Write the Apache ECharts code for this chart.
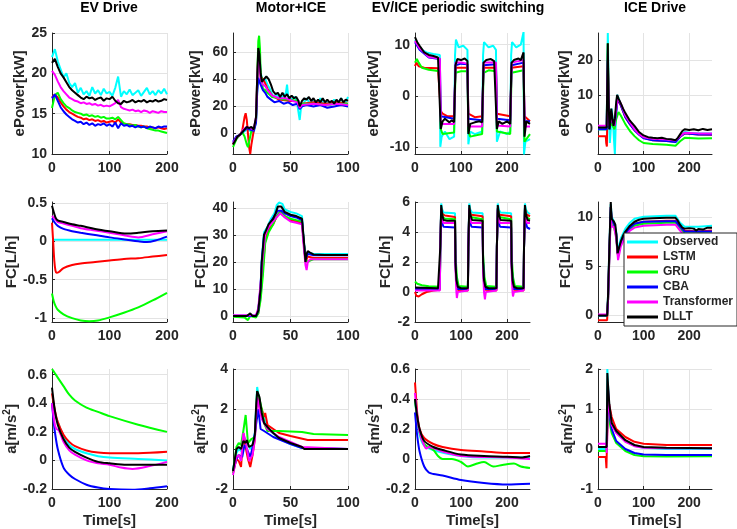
<!DOCTYPE html>
<html>
<head>
<meta charset="utf-8">
<title>Model comparison by drive mode</title>
<script src="https://cdn.jsdelivr.net/npm/echarts@6/dist/echarts.min.js"></script>
<style>
  html, body { margin: 0; padding: 0; background: #fff; }
  #chart { width: 737px; height: 529px; }
</style>
</head>
<body>
<div id="chart"></div>
<script>
// legend order = draw order
const seriesNames = ['Observed', 'LSTM', 'GRU', 'CBA', 'Transformer', 'DLLT'];
const seriesColors = ['#00ffff', '#ff0000', '#00ff00', '#0000ff', '#ff00ff', '#000000'];
const panelTitles = ['EV Drive', 'Motor+ICE', 'EV/ICE periodic switching', 'ICE Drive'];

// tick labels
const xTicks100 = [0, 50, 100];
const xTicks200 = [0, 100, 200];
const evPowTicks = [10, 15, 20, 25];
const mtPowTicks = [0, 20, 40, 60];
const swPowTicks = [-10, 0, 10];
const icePowTicks = [0, 10, 20];
const evFcTicks = [-1, -0.5, 0, 0.5];
const mtFcTicks = [0, 10, 20, 30, 40];
const swFcTicks = [-2, 0, 2, 4, 6];
const iceFcTicks = [0, 5, 10];
const evAccTicks = [-0.2, 0, 0.2, 0.4, 0.6];
const mtAccTicks = [-2, 0, 2, 4];
const swAccTicks = [-0.2, 0, 0.2, 0.4, 0.6];
const iceAccTicks = [-1, 0, 1, 2];

// ---- EV Drive, ePower (sampled every 5 s)
const evTime = [0,5,10,15,20,25,30,35,40,45,50,55,60,65,70,75,80,85,90,95,100,105,110,115,120,125,130,135,140,145,150,155,160,165,170,175,180,185,190,195,200];
const evPowObs = [22.0,23.0,21.5,20.5,19.5,20.0,18.8,18.3,18.8,17.6,18.2,17.4,17.8,17.2,18.3,17.5,17.9,17.3,18.1,17.5,17.7,17.2,18.2,19.6,17.1,17.8,17.4,18.0,17.3,17.6,17.9,17.2,17.7,18.2,17.4,17.8,17.3,17.9,17.5,18.1,17.4];
const evPowLstm = [17.0,17.4,17.0,16.4,15.9,15.5,15.2,15.0,14.8,14.6,14.5,14.3,14.4,14.2,14.3,14.1,14.2,14.0,14.1,13.9,14.0,14.1,13.9,14.3,13.9,13.8,13.7,13.7,13.6,13.6,13.5,13.5,13.4,13.4,13.3,13.3,13.2,13.3,13.2,13.1,13.2];
const evPowGru = [15.7,17.3,17.6,16.8,16.3,15.9,15.7,15.4,15.2,15.1,15.0,14.8,14.9,14.7,14.8,14.6,14.7,14.5,14.6,14.4,14.4,14.5,14.3,14.6,14.2,13.8,13.7,13.6,13.5,13.6,13.4,13.3,13.4,13.2,13.1,13.0,12.9,12.9,12.8,12.7,12.6];
const evPowCba = [16.9,17.4,16.6,15.8,15.3,14.9,14.6,14.3,14.1,13.9,14.0,13.7,13.9,13.6,13.8,13.5,13.7,13.6,13.8,13.5,13.7,13.4,13.9,13.2,13.8,13.5,13.6,13.4,13.5,13.3,13.5,13.3,13.4,13.2,13.4,13.3,13.2,13.4,13.3,13.4,13.4];
const evPowTrans = [20.3,19.8,19.0,18.3,17.8,17.4,17.0,16.8,16.6,16.5,16.3,16.4,16.2,16.3,16.1,16.2,16.0,16.1,15.9,16.0,15.9,16.1,16.3,16.7,15.8,15.6,15.5,15.4,15.5,15.3,15.4,15.2,15.4,15.3,15.1,15.3,15.2,15.1,15.3,15.2,15.2];
const evPowDllt = [21.3,21.8,20.8,20.0,19.5,18.9,18.3,17.9,17.6,17.3,17.0,16.8,17.1,16.9,17.0,16.7,16.9,17.0,16.6,16.9,16.8,17.1,16.6,16.3,16.2,16.6,16.4,16.5,16.7,16.4,16.6,16.5,16.7,16.4,16.6,16.5,16.7,16.5,16.6,16.8,16.7];

// ---- Motor+ICE, ePower [t, kW]
const mtPowObs = [[0,-7],[3,-3],[6,-1],[9,1],[12,3],[15,2],[18,1],[20,8],[21,30],[22,55],[23,60],[24,45],[26,38],[28,40],[30,36],[32,33],[35,27],[38,29],[41,26],[44,28],[46,30],[47,36],[48,27],[51,25],[54,27],[56,21],[58,10],[59,18],[61,22],[64,26],[67,22],[70,25],[73,21],[76,26],[79,22],[82,24],[85,21],[88,25],[91,22],[94,26],[97,21],[100,27]];
const mtPowLstm = [[0,-8],[3,-3],[6,-1],[8,2],[10,12],[11,15],[12,10],[13,0],[14,-10],[15,-15],[16,-8],[18,2],[20,10],[21,35],[22,60],[23,55],[24,42],[26,40],[28,37],[30,33],[34,28],[40,25],[50,24],[56,24],[58,19],[60,22],[70,23],[80,22],[90,23],[100,22]];
const mtPowGru = [[0,-10],[3,-4],[6,-1],[8,1],[10,-2],[12,-8],[13,-10],[14,-6],[16,2],[18,3],[20,10],[21,40],[22,68],[22.7,72],[23.5,62],[24,45],[26,33],[28,32],[30,30],[34,27],[40,26],[44,25],[50,25],[56,24],[58,19],[60,22],[70,22],[80,21],[90,22],[100,22]];
const mtPowCba = [[0,-6],[3,-2],[6,-1],[9,2],[12,4],[15,3],[18,2],[20,8],[21,30],[22,41],[23,40],[24,36],[26,32],[28,30],[30,27],[33,25],[36,23],[40,24],[44,22],[48,23],[52,21],[56,22],[58,18],[60,20],[64,21],[70,20],[76,21],[82,19],[88,20],[94,21],[100,20]];
const mtPowTrans = [[0,-7],[3,-3],[6,-1],[9,3],[12,5],[15,4],[18,3],[20,12],[21,40],[22,55],[23,50],[24,40],[26,36],[28,35],[30,32],[34,28],[40,26],[46,26],[52,24],[56,23],[58,19],[60,21],[70,22],[80,21],[90,22],[100,21]];
const mtPowDllt = [[0,-8],[2,-5],[4,-2],[6,-1],[8,1],[10,3],[12,5],[14,4],[16,5],[18,3],[20,12],[21,40],[22,63],[23,58],[24,45],[25,38],[27,40],[29,42],[31,40],[33,36],[35,31],[37,29],[39,30],[41,27],[43,30],[45,27],[47,29],[49,26],[51,28],[53,26],[55,27],[57,24],[58,20],[60,24],[62,26],[64,25],[66,27],[68,24],[70,26],[72,23],[74,25],[76,23],[78,26],[80,23],[82,25],[84,23],[86,24],[88,22],[90,25],[92,23],[94,26],[96,23],[98,25],[100,24]];

// ---- EV/ICE periodic switching, ePower
const swPowObs = [[0,11],[5,10.3],[15,9],[25,8.5],[40,8.2],[54,8],[55,-10],[58,-8],[65,-7],[75,-8.5],[85,-8],[87,8],[89,11],[95,9.5],[105,9.8],[114,9],[116,-9.5],[120,-7],[130,-7.5],[146,-7],[148,8],[150,10.5],[160,9.5],[170,9.8],[176,9],[178,-9],[185,-7],[200,-7.5],[207,-7],[209,8],[211,10.5],[220,9.5],[230,10],[236,12.5],[237,-11.5],[240,-9],[250,-8.5]];
const swPowLstm = [[0,5.8],[3,6.5],[8,5.8],[20,5.5],[50,5.4],[54,5.4],[56,-3],[60,-3.5],[70,-4],[85,-4],[88,5.5],[100,5.5],[114,5.5],[116,-3.5],[130,-4.2],[146,-4],[149,5.5],[176,5.5],[178,-3.5],[207,-4],[210,5.5],[236,5.8],[238,-4],[250,-5]];
const swPowGru = [[0,6.5],[4,7.2],[8,6.5],[15,5.5],[30,5.1],[54,4.8],[56,-6.5],[60,-7.5],[85,-7.2],[88,4.5],[100,4.8],[114,4.8],[116,-7],[120,-8],[146,-7.5],[149,4.5],[160,5],[176,4.8],[178,-7],[207,-7.5],[210,4.5],[236,5],[238,-9],[250,-7.5]];
const swPowCba = [[0,10.5],[10,9],[30,7.5],[54,7.2],[56,-4],[60,-4.2],[85,-4.5],[88,6],[100,6.3],[114,6.2],[116,-4.5],[146,-4.8],[149,6],[176,6.2],[178,-4.5],[207,-4.8],[210,6],[236,6.5],[238,-5],[250,-5]];
const swPowTrans = [[0,10.8],[10,9.3],[30,7.6],[54,7.3],[56,-5],[60,-5.5],[85,-5.5],[88,6.5],[100,6.5],[114,6.3],[116,-6],[146,-6],[149,6.5],[176,6.5],[178,-5.8],[207,-6],[210,6.5],[236,7],[238,-6],[250,-6]];
const swPowDllt = [[0,11.5],[5,10.5],[10,9.8],[20,8.5],[30,8],[40,7.8],[50,7.5],[54,7.3],[56,-6.5],[60,-5],[65,-4.5],[75,-5.2],[80,-4.8],[85,-5.2],[87,2],[88,6],[92,7.2],[100,7],[108,7.3],[114,6.8],[116,-7.5],[120,-5.5],[130,-5.2],[140,-5],[146,-5.2],[148,3],[149,6.5],[155,7],[165,7.2],[172,6.8],[176,6.5],[178,-6.5],[182,-5],[190,-5.5],[200,-5],[207,-5.5],[209,4],[210,6.5],[215,7],[225,7.3],[230,7],[236,8.5],[238,-8],[242,-5],[250,-5.5]];

// ---- ICE Drive, ePower
const icePowObs = [[0,0],[19,0],[20,12],[21.5,28],[23,15],[25,0],[26,-4],[28,0],[30,6],[33,2],[35,-3],[37,-7.2],[39,2],[42,10],[45,9],[50,7],[60,4],[70,2],[80,0.5],[90,-1.3],[100,-2.5],[120,-3],[140,-3],[150,-3.3],[170,-3.8],[175,-3],[180,-2],[190,-0.8],[200,-1],[220,-1.2],[250,-1.2]];
const icePowLstm = [[0,-2],[17,-2],[18,-4],[19.5,-5],[20.5,5],[22,18],[24,6],[27,1],[30,3],[35,1],[40,6],[43,8.5],[50,7],[60,3.5],[70,1.5],[80,-0.2],[100,-2.5],[120,-3.2],[150,-3.4],[170,-3.6],[180,-2.2],[190,-1.2],[220,-1.5],[250,-1.6]];
const icePowGru = [[0,0],[19,0],[20,10],[21.5,25],[23,8],[25,0],[28,2],[32,1],[36,0],[40,3],[45,5],[50,4],[60,1.5],[70,-0.5],[80,-2],[90,-3.2],[100,-4],[120,-4.3],[150,-4.5],[170,-4.8],[180,-3.5],[190,-2.5],[220,-2.7],[250,-2.6]];
const icePowCba = [[0,0],[19,0],[20,8],[21.5,20],[23,8],[25,0],[28,3],[32,2],[36,1],[40,5],[43,9],[50,7],[60,3.5],[70,1.5],[80,-0.3],[90,-1.6],[100,-2.6],[120,-3.2],[150,-3.4],[170,-3.7],[180,-2.2],[190,-1.2],[220,-1.5],[250,-1.5]];
const icePowTrans = [[0,1],[19,1],[20,8],[21.5,20],[23,8],[25,1],[28,3],[32,2],[36,1],[40,6],[43,9],[50,7.5],[60,4],[70,2],[80,0],[90,-1.4],[100,-2.3],[120,-2.8],[150,-3],[170,-3.3],[180,-2],[190,-1],[220,-1.2],[250,-1.2]];
const icePowDllt = [[0,0.5],[19,0.5],[20,10],[21.5,25],[23,10],[25,0],[27,2],[29,6],[31,4],[34,1],[37,3],[40,8],[42,10],[45,9],[50,7.5],[55,6],[60,4.7],[70,2.5],[80,1],[90,-0.8],[100,-1.8],[110,-2.3],[120,-2.5],[130,-2.6],[140,-2.5],[150,-2.8],[160,-2.9],[170,-3.2],[175,-2.5],[180,-1.5],[185,-0.5],[190,0],[200,-0.2],[210,0],[220,-0.3],[230,0.1],[240,-0.2],[250,0]];

// ---- EV Drive, FC
const evFcObs = [[0,0.02],[50,0.02],[100,0.02],[150,0.02],[200,0.02]];
const evFcLstm = [[0,0.24],[2,0],[4,-0.25],[6,-0.38],[8,-0.41],[12,-0.4],[20,-0.35],[35,-0.31],[50,-0.29],[75,-0.27],[100,-0.25],[125,-0.23],[150,-0.22],[175,-0.2],[200,-0.18]];
const evFcGru = [[0,-0.68],[3,-0.78],[6,-0.84],[10,-0.89],[20,-0.95],[35,-1.0],[50,-1.03],[65,-1.04],[80,-1.03],[100,-0.99],[125,-0.93],[150,-0.86],[175,-0.77],[200,-0.67]];
const evFcCba = [[0,0.3],[5,0.24],[10,0.2],[20,0.16],[35,0.13],[50,0.11],[75,0.08],[100,0.05],[130,0.02],[150,0],[165,-0.01],[180,0.01],[200,0.06]];
const evFcTrans = [[0,0.33],[5,0.29],[10,0.25],[20,0.23],[35,0.2],[50,0.17],[75,0.14],[100,0.11],[130,0.07],[150,0.05],[175,0.09],[200,0.13]];
const evFcDllt = [[0,0.46],[3,0.38],[6,0.31],[10,0.27],[20,0.25],[35,0.22],[50,0.2],[75,0.16],[100,0.13],[130,0.1],[150,0.11],[175,0.13],[200,0.14]];

// ---- Motor+ICE, FC
const mtFcObs = [[0,0.2],[20,0.2],[22,2],[24,11],[25,21],[27,31],[30,33],[33,36],[36,38],[38,41],[40,42],[43,41.5],[45,39.5],[50,38.5],[55,38],[60,37],[61,31],[63,21],[65,23.5],[70,23],[100,23]];
const mtFcLstm = [[0,0],[20,0],[22,1],[24,8],[26,18],[28,28],[31,32],[35,34],[38,37],[41,38.5],[45,37],[50,35.5],[55,35],[60,34.5],[61,30],[63,20],[65,22],[70,21.5],[100,21.5]];
const mtFcGru = [[0,-0.3],[10,-0.5],[13,-1.5],[15,0],[20,-0.5],[22,1],[24,6],[26,15],[28,27],[31,31],[35,34],[38,37],[41,38.5],[45,37],[50,36],[55,35.5],[60,35],[61,30],[63,21],[65,20],[67,20.5],[70,21],[100,21]];
const mtFcCba = [[0,0],[20,0],[22,2],[24,11],[25,20],[27,30],[30,32],[33,35],[36,37],[39,39],[42,39],[45,38],[50,37],[55,36.5],[60,35.5],[61,30],[63,21],[65,23],[70,22.5],[100,22.5]];
const mtFcTrans = [[0,0.3],[20,0.3],[22,3],[24,12],[26,22],[28,30],[31,33],[35,35],[38,36.5],[41,38],[45,36.5],[50,35],[55,34.5],[60,34],[61,28],[63,19],[64,17],[65,20],[67,21],[70,21],[100,21]];
const mtFcDllt = [[0,0],[8,0],[12,0],[15,1],[17,0],[20,0],[22,2],[24,10],[25,20],[27,30],[29,32],[31,34],[33,35],[35,36],[37,38],[39,40.5],[42,40.5],[45,38.5],[50,37.5],[55,37],[60,36],[61,31],[62,26],[63,20],[64,23],[65,24],[67,23.5],[70,22.8],[80,22.6],[90,22.6],[100,22.6]];

// ---- EV/ICE periodic switching, FC
const swFcObs = [[0,0.2],[54,0.2],[55,3],[57,5.9],[59,5.5],[62,5.3],[87,5.25],[88,2],[90,0.8],[93,0.3],[115,0.2],[116,3],[118,5.9],[120,5.5],[124,5.3],[147,5.25],[148,2],[150,0.8],[153,0.3],[177,0.2],[178,3],[180,5.9],[182,5.5],[186,5.3],[209,5.25],[210,2],[212,0.8],[215,0.3],[236,0.2],[237,3],[239,5.9],[241,5.5],[245,5.3],[250,5.2]];
const swFcLstm = [[0,0],[3,-0.25],[8,-0.3],[15,-0.15],[25,0],[40,0.1],[54,0.15],[55,3],[57,5.5],[60,5.2],[65,5.1],[87,5],[88,2],[90,0.6],[93,0.15],[100,0.1],[115,0.1],[116,3],[118,5.5],[122,5.15],[147,5.05],[148,2],[150,0.6],[153,0.15],[177,0.1],[178,3],[180,5.5],[184,5.15],[209,5.05],[210,2],[212,0.6],[215,0.15],[236,0.1],[237,3],[239,5.5],[243,5.15],[250,5.05]];
const swFcGru = [[0,0.7],[5,0.55],[15,0.45],[30,0.38],[54,0.35],[55,3],[57,5.6],[60,5],[65,4.9],[87,4.85],[88,2.5],[91,1],[95,0.4],[115,0.35],[116,3],[118,5.6],[121,5],[147,4.85],[148,2.5],[151,1],[155,0.4],[177,0.35],[178,3],[180,5.6],[183,5],[209,4.85],[210,2.5],[213,1],[217,0.4],[236,0.35],[237,3],[239,5.6],[242,5],[250,4.85]];
const swFcCba = [[0,0.2],[54,0.2],[55,3],[57,5.5],[59,4.6],[62,4.35],[87,4.3],[88,2],[90,0.6],[93,0.2],[115,0.2],[116,3],[118,5.5],[120,4.6],[123,4.35],[147,4.3],[148,2],[150,0.6],[153,0.2],[177,0.2],[178,3],[180,5.5],[182,4.6],[185,4.35],[209,4.3],[210,2],[212,0.6],[215,0.2],[236,0.2],[237,3],[239,5.5],[241,4.6],[244,4.3],[250,4.2]];
const swFcTrans = [[0,0.1],[54,0.1],[55,3],[57,5.6],[59,4.8],[62,4.6],[87,4.6],[88,1.5],[90,0],[91,-0.4],[93,0],[96,0.1],[115,0.1],[116,3],[118,5.6],[120,4.8],[123,4.6],[147,4.6],[148,1.5],[150,0],[152,-0.5],[154,0],[157,0.1],[177,0.1],[178,3],[180,5.6],[182,4.8],[185,4.6],[209,4.6],[210,1.5],[212,0],[213,-0.3],[215,0],[218,0.1],[236,0.1],[237,3],[239,5.6],[241,4.8],[244,4.6],[250,4.6]];
const swFcDllt = [[0,0.3],[50,0.25],[54,0.25],[55,3],[57,5.8],[59,5.2],[62,4.8],[70,4.75],[87,4.75],[88,2],[90,0.8],[93,0.35],[100,0.25],[115,0.25],[116,3],[118,5.8],[120,5.2],[124,4.8],[147,4.75],[148,2],[150,0.8],[153,0.35],[160,0.25],[177,0.25],[178,3],[180,5.8],[182,5.2],[186,4.8],[209,4.75],[210,2],[212,0.8],[215,0.35],[222,0.25],[236,0.25],[237,3],[239,5.8],[241,5.2],[245,4.8],[250,4.75]];

// ---- ICE Drive, FC
const iceFcObs = [[0,0],[20,0],[22,2],[25,7],[27,10],[28,11.3],[30,10],[35,9.5],[40,8.5],[43,6.5],[50,7.8],[60,8.8],[70,9.4],[80,9.8],[100,10],[150,10.1],[170,10.1],[180,9.4],[190,9],[220,9],[250,9.1]];
const iceFcLstm = [[0,-0.5],[20,-0.5],[22,1.5],[25,6.5],[27,9.5],[28,11],[30,9.5],[35,9.3],[40,8.2],[43,6.2],[50,7.3],[60,8.3],[70,8.9],[80,9.3],[100,9.5],[150,9.6],[170,9.6],[180,9],[190,8.6],[220,8.5],[250,8.6]];
const iceFcGru = [[0,0],[20,0],[22,1.5],[25,6],[27,9],[28,10.5],[30,9.2],[35,9],[40,8],[43,6.2],[50,7.2],[60,8.1],[70,8.7],[80,9.1],[100,9.3],[150,9.4],[170,9.4],[180,8.8],[190,8.3],[220,8.3],[250,8.3]];
const iceFcCba = [[0,0],[20,0],[22,1.5],[25,6.5],[27,9.5],[28,11],[30,9.6],[35,9.3],[40,8.3],[43,6.3],[50,7.4],[60,8.3],[70,8.9],[80,9.3],[100,9.5],[150,9.55],[170,9.55],[180,9],[190,8.5],[220,8.5],[250,8.5]];
const iceFcTrans = [[0,0.1],[20,0.1],[22,1.5],[25,6],[27,8.8],[28,9.8],[30,9],[35,9],[40,7.8],[44,5.6],[50,7],[60,8],[70,8.6],[80,8.9],[100,9.1],[150,9.2],[170,9.2],[180,8.6],[190,8.1],[220,8.1],[250,8.1]];
const iceFcDllt = [[0,0],[20,0],[22,2],[25,7],[27,10],[28,11.5],[29,10.5],[30,9.8],[35,9.5],[38,9.2],[40,8.3],[43,6.3],[46,6.8],[50,7.5],[55,8.1],[60,8.5],[70,9.1],[80,9.5],[90,9.7],[100,9.8],[120,9.85],[150,9.9],[170,9.9],[175,9.6],[180,9.2],[185,8.9],[190,8.8],[200,8.85],[210,8.8],[215,8.6],[220,8.75],[230,8.7],[240,8.9],[250,8.9]];

// ---- EV Drive, acceleration
const evAccObs = [[0,0.4],[5,0.33],[10,0.27],[20,0.17],[30,0.11],[40,0.08],[60,0.05],[80,0.03],[100,0.02],[150,0.01],[200,0]];
const evAccLstm = [[0,0.47],[5,0.35],[10,0.27],[20,0.18],[30,0.13],[40,0.1],[60,0.07],[80,0.055],[100,0.05],[150,0.05],[200,0.06]];
const evAccGru = [[0,0.64],[5,0.61],[10,0.58],[20,0.52],[30,0.46],[40,0.42],[60,0.37],[80,0.34],[100,0.31],[150,0.25],[200,0.2]];
const evAccCba = [[0,0.4],[3,0.27],[5,0.2],[10,0.08],[20,-0.05],[30,-0.1],[40,-0.13],[60,-0.17],[80,-0.19],[100,-0.2],[140,-0.205],[170,-0.195],[200,-0.18]];
const evAccTrans = [[0,0.4],[5,0.25],[8,0.22],[12,0.21],[20,0.13],[30,0.07],[40,0.04],[60,0],[80,-0.02],[100,-0.03],[120,-0.05],[140,-0.06],[170,-0.04],[200,-0.01]];
const evAccDllt = [[0,0.51],[5,0.35],[10,0.25],[20,0.15],[30,0.09],[40,0.06],[60,0.02],[80,-0.01],[100,-0.02],[130,-0.03],[170,-0.03],[200,-0.03]];

// ---- Motor+ICE, acceleration
const mtAccObs = [[0,-1],[3,-0.2],[5,0],[7,-0.1],[9,0.5],[11,0.3],[13,0.2],[15,0],[17,0.2],[19,0.8],[21,3.1],[23,2.4],[25,1.9],[30,1],[40,0.55],[50,0.25],[60,0.05],[100,0]];
const mtAccLstm = [[0,-1.2],[3,-0.5],[5,-0.6],[7,-0.9],[9,0.8],[11,0.1],[13,-0.5],[15,-0.9],[17,-0.3],[19,0.5],[21,2.7],[23,2.3],[25,2],[27,1.6],[28,1.8],[30,1.2],[40,0.8],[50,0.65],[65,0.45],[100,0.45]];
const mtAccGru = [[0,-1.2],[3,0.1],[5,0.3],[7,0.2],[9,0.9],[11,1.7],[13,0.3],[16,0.5],[19,0.6],[21,2.9],[23,2.5],[25,2],[27,1.3],[30,0.9],[40,0.9],[60,0.85],[70,0.75],[100,0.7]];
const mtAccCba = [[0,-1.1],[3,-0.5],[5,-0.3],[8,-0.4],[10,0.2],[12,0],[15,-0.4],[18,0.3],[20,1.2],[22,2],[24,1],[27,0.9],[35,0.6],[50,0.25],[60,0.05],[100,0]];
const mtAccTrans = [[0,-1.3],[3,-0.4],[5,-0.3],[7,-0.6],[9,0.8],[11,0.4],[14,-0.6],[17,-0.3],[19,0.5],[21,2.6],[23,2],[25,1.5],[30,1],[40,0.6],[60,0.1],[100,0]];
const mtAccDllt = [[0,-1.1],[3,0],[5,0.1],[7,0],[9,0.4],[11,0.3],[12,0.45],[14,0.1],[17,0.2],[19,0.7],[20,2],[21,2.9],[22,3],[23,2.6],[25,1.8],[27,1.3],[30,1.1],[35,0.8],[40,0.55],[50,0.3],[60,0.1],[62,0],[100,0]];

// ---- EV/ICE periodic switching, acceleration
const swAccObs = [[0,0.4],[5,0.25],[10,0.16],[20,0.09],[50,0.05],[100,0.02],[150,0.01],[250,0.01]];
const swAccLstm = [[0,0.51],[3,0.38],[5,0.3],[10,0.2],[20,0.14],[40,0.1],[60,0.08],[100,0.06],[150,0.05],[200,0.04],[250,0.04]];
const swAccGru = [[0,0.4],[5,0.26],[10,0.18],[20,0.1],[40,0.06],[50,0.02],[60,0],[80,0],[100,-0.02],[115,-0.05],[135,-0.03],[150,-0.02],[170,-0.05],[190,-0.04],[215,-0.03],[230,-0.05],[250,-0.06]];
const swAccCba = [[0,0.31],[5,0.15],[10,0.05],[20,-0.05],[30,-0.09],[40,-0.1],[60,-0.11],[100,-0.14],[150,-0.16],[200,-0.17],[250,-0.165]];
const swAccTrans = [[0,0.44],[5,0.28],[10,0.18],[20,0.09],[25,0.07],[30,0.08],[60,0.05],[100,0.02],[200,0.01],[250,0]];
const swAccDllt = [[0,0.4],[5,0.28],[10,0.2],[20,0.12],[40,0.08],[60,0.06],[100,0.03],[150,0.02],[200,0.015],[230,0.01],[250,0.02]];

// ---- ICE Drive, acceleration
const iceAccObs = [[0,0],[19,0],[20.5,2],[22,1.6],[25,1],[30,0.65],[40,0.42],[60,0.2],[80,0.08],[100,0.03],[150,0],[250,0]];
const iceAccLstm = [[0,-0.2],[17,-0.2],[18.5,-0.48],[20,0.3],[23,1.2],[25,1.15],[30,0.8],[40,0.5],[60,0.3],[80,0.18],[100,0.13],[150,0.1],[250,0.1]];
const iceAccGru = [[0,-0.05],[19,-0.05],[21,1],[23,0.9],[25,0.7],[30,0.4],[40,0.15],[60,-0.05],[80,-0.15],[100,-0.18],[150,-0.19],[250,-0.18]];
const iceAccCba = [[0,0.05],[19,0.05],[21,1.1],[23,1],[25,0.9],[30,0.5],[40,0.2],[60,0],[80,-0.1],[100,-0.14],[150,-0.15],[250,-0.15]];
const iceAccTrans = [[0,0.13],[18,0.13],[19,-0.1],[20,0.2],[22,1.5],[25,1],[30,0.6],[40,0.4],[60,0.18],[80,0.07],[100,0.03],[150,0.02],[250,0.02]];
const iceAccDllt = [[0,0.05],[19,0.05],[20.5,1.9],[22,1.6],[25,1.1],[30,0.65],[40,0.45],[60,0.22],[80,0.1],[100,0.05],[150,0.03],[250,0.02]];

const zipTime = vals => vals.map((v, i) => [evTime[i], v]);

const accName = 'a[m/s{sup|2}]';
const panels = [
  { series: [evPowObs, evPowLstm, evPowGru, evPowCba, evPowTrans, evPowDllt].map(zipTime), xMax: 200, xTicks: xTicks200, yMin: 10, yMax: 25, yTicks: evPowTicks, name: 'ePower[kW]', gap: 23 },
  { series: [mtPowObs, mtPowLstm, mtPowGru, mtPowCba, mtPowTrans, mtPowDllt], xMax: 100, xTicks: xTicks100, yMin: -15, yMax: 74, yTicks: mtPowTicks, name: 'ePower[kW]', gap: 30 },
  { series: [swPowObs, swPowLstm, swPowGru, swPowCba, swPowTrans, swPowDllt], xMax: 250, xTicks: xTicks200, yMin: -11.4, yMax: 12.3, yTicks: swPowTicks, name: 'ePower[kW]', gap: 34 },
  { series: [icePowObs, icePowLstm, icePowGru, icePowCba, icePowTrans, icePowDllt], xMax: 250, xTicks: xTicks200, yMin: -7.2, yMax: 28, yTicks: icePowTicks, name: 'ePower[kW]', gap: 26 },
  { series: [evFcObs, evFcLstm, evFcGru, evFcCba, evFcTrans, evFcDllt], xMax: 200, xTicks: xTicks200, yMin: -1.05, yMax: 0.51, yTicks: evFcTicks, name: 'FC[L/h]', gap: 28, smooth: true },
  { series: [mtFcObs, mtFcLstm, mtFcGru, mtFcCba, mtFcTrans, mtFcDllt], xMax: 100, xTicks: xTicks100, yMin: -2.2, yMax: 42.2, yTicks: mtFcTicks, name: 'FC[L/h]', gap: 23 },
  { series: [swFcObs, swFcLstm, swFcGru, swFcCba, swFcTrans, swFcDllt], xMax: 250, xTicks: xTicks200, yMin: -2, yMax: 6, yTicks: swFcTicks, name: 'FC[L/h]', gap: 20 },
  { series: [iceFcObs, iceFcLstm, iceFcGru, iceFcCba, iceFcTrans, iceFcDllt], xMax: 250, xTicks: xTicks200, yMin: -0.67, yMax: 11.5, yTicks: iceFcTicks, name: 'FC[L/h]', gap: 22 },
  { series: [evAccObs, evAccLstm, evAccGru, evAccCba, evAccTrans, evAccDllt], xMax: 200, xTicks: xTicks200, yMin: -0.2, yMax: 0.64, yTicks: evAccTicks, name: accName, gap: 24, smooth: true },
  { series: [mtAccObs, mtAccLstm, mtAccGru, mtAccCba, mtAccTrans, mtAccDllt], xMax: 100, xTicks: xTicks100, yMin: -2, yMax: 4, yTicks: mtAccTicks, name: accName, gap: 23 },
  { series: [swAccObs, swAccLstm, swAccGru, swAccCba, swAccTrans, swAccDllt], xMax: 250, xTicks: xTicks200, yMin: -0.2, yMax: 0.6, yTicks: swAccTicks, name: accName, gap: 27, smooth: true },
  { series: [iceAccObs, iceAccLstm, iceAccGru, iceAccCba, iceAccTrans, iceAccDllt], xMax: 250, xTicks: xTicks200, yMin: -1, yMax: 2, yTicks: iceAccTicks, name: accName, gap: 21 }
];

// layout of the 3x4 grid
const colLeft = [52, 233, 415, 598];
const colWidth = [115, 115, 115, 114];
const rowTop = [33, 202, 369];
const rowHeight = [121, 120, 120];
const titleCenter = [109, 291, 458, 655];

const font = "'Liberation Sans', Arial, Helvetica, sans-serif";
const axisColor = '#262626';
const labelStyle = { fontFamily: font, fontSize: 14, fontWeight: 'bold', color: axisColor };
const nameStyle = {
  fontFamily: font, fontSize: 15, fontWeight: 'bold', color: axisColor,
  rich: { sup: { fontFamily: font, fontSize: 10, fontWeight: 'bold', color: axisColor, padding: [0, 0, 9, 0] } }
};

const grids = [], xAxes = [], yAxes = [], series = [];
panels.forEach((p, i) => {
  const r = Math.floor(i / 4), c = i % 4;
  grids.push({ left: colLeft[c], top: rowTop[r], width: colWidth[c], height: rowHeight[r] });
  xAxes.push({
    type: 'value', gridIndex: i, min: 0, max: p.xMax,
    axisLine: { onZero: false, lineStyle: { color: axisColor, width: 1 } },
    axisTick: { inside: true, length: 3, customValues: p.xTicks, lineStyle: { color: axisColor } },
    axisLabel: Object.assign({ customValues: p.xTicks, margin: 7 }, labelStyle),
    splitLine: { show: true, lineStyle: { color: '#e3e3e3', width: 1 } },
    name: r === 2 ? 'Time[s]' : '', nameLocation: 'middle', nameGap: 24, nameTextStyle: nameStyle
  });
  yAxes.push({
    type: 'value', gridIndex: i, min: p.yMin, max: p.yMax,
    axisLine: { show: true, onZero: false, lineStyle: { color: axisColor, width: 1 } },
    axisTick: { show: true, inside: true, length: 3, customValues: p.yTicks, lineStyle: { color: axisColor } },
    axisLabel: Object.assign({ customValues: p.yTicks, margin: 5 }, labelStyle),
    splitLine: { show: true, lineStyle: { color: '#e3e3e3', width: 1 } },
    name: p.name, nameLocation: 'middle', nameGap: p.gap, nameTextStyle: nameStyle
  });
  p.series.forEach((d, k) => {
    series.push({
      type: 'line', name: seriesNames[k], xAxisIndex: i, yAxisIndex: i,
      data: d, showSymbol: false, symbol: 'none', smooth: p.smooth ? 0.3 : false,
      lineStyle: { color: seriesColors[k], width: 2 }, itemStyle: { color: seriesColors[k] },
      emphasis: { disabled: true }
    });
  });
});

const chart = echarts.init(document.getElementById('chart'), null, { renderer: 'canvas' });
chart.setOption({
  animation: false,
  backgroundColor: '#fff',
  title: panelTitles.map((t, i) => ({
    text: t, left: titleCenter[i], top: 1, textAlign: 'center', padding: 0,
    textStyle: { fontFamily: font, fontSize: 14, fontWeight: 'bold', color: '#000' }
  })),
  legend: {
    data: seriesNames, orient: 'vertical', left: 624, top: 233,
    icon: 'rect', itemWidth: 31, itemHeight: 3, itemGap: 1,
    padding: [2, 4, 2, 3], backgroundColor: '#fff', borderColor: axisColor, borderWidth: 1,
    selectedMode: false, z: 10,
    textStyle: { fontFamily: font, fontSize: 12, fontWeight: 'bold', color: axisColor, lineHeight: 14 }
  },
  grid: grids,
  xAxis: xAxes,
  yAxis: yAxes,
  series: series
});
</script>
</body>
</html>
